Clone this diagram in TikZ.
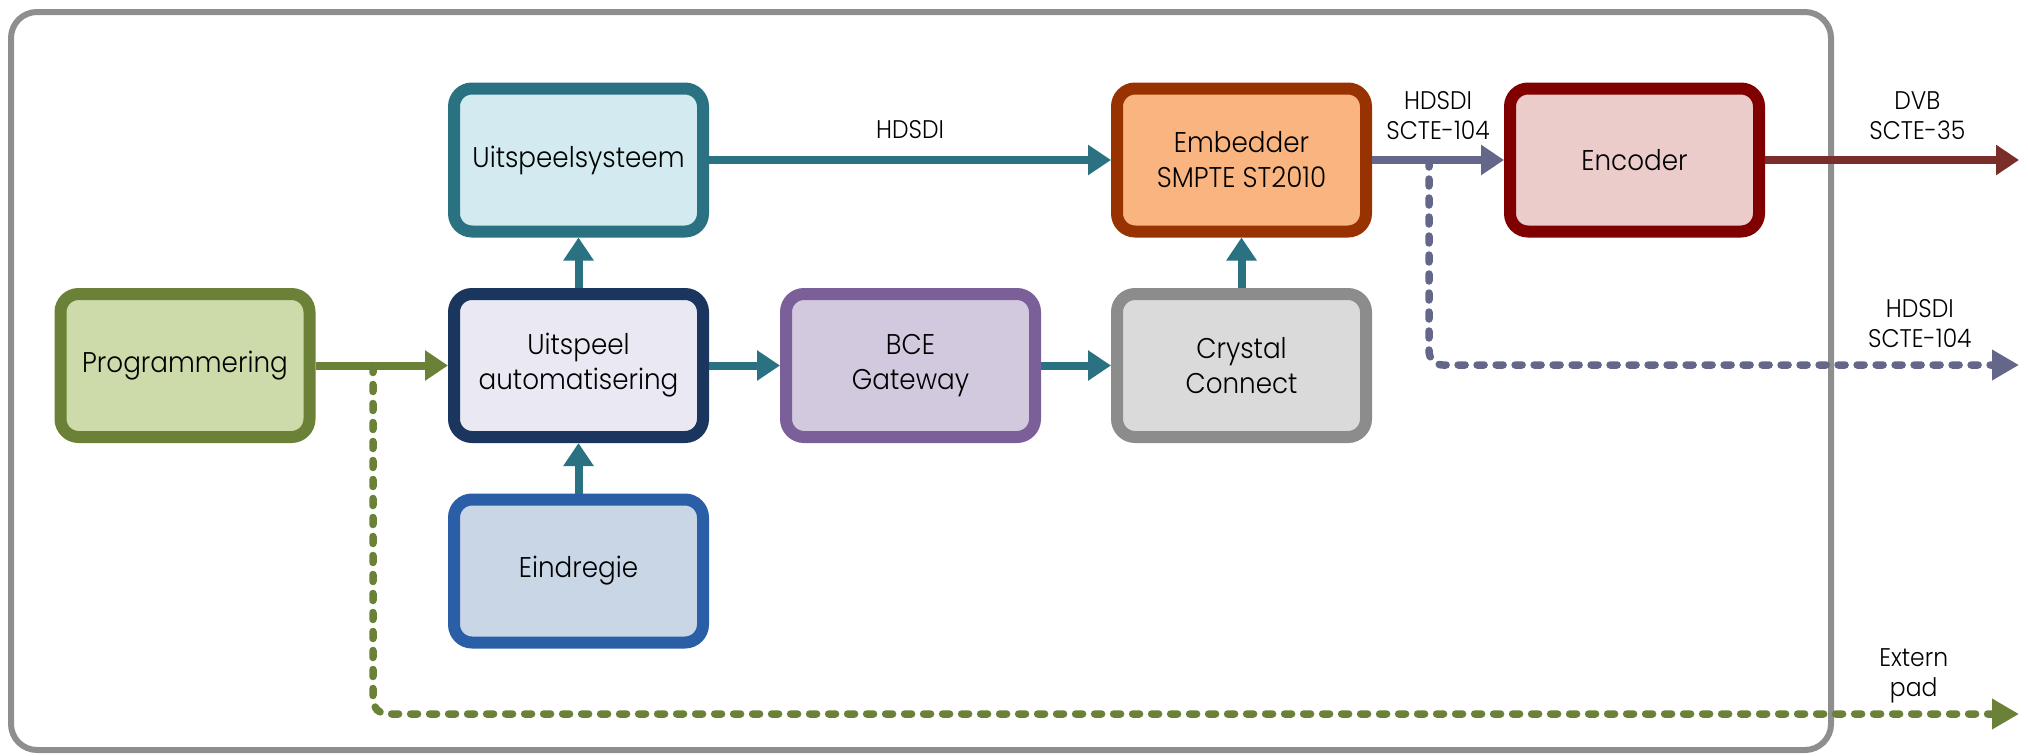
\documentclass[tikz,border=0pt]{standalone}
\usepackage{fontspec}
\IfFontExistsTF{Poppins Light}{\setmainfont{Poppins Light}[FakeStretch=0.92]}{\setmainfont{Poppins}[FakeStretch=0.92]}
\usetikzlibrary{arrows.meta}
\definecolor{progD}{HTML}{6B8137}
\definecolor{progF}{HTML}{CCDBA9}
\definecolor{sysD}{HTML}{2A7181}
\definecolor{sysF}{HTML}{D3EBF0}
\definecolor{autD}{HTML}{1A365E}
\definecolor{autF}{HTML}{EAE9F3}
\definecolor{eindD}{HTML}{2A5EA6}
\definecolor{eindF}{HTML}{C9D6E6}
\definecolor{bceD}{HTML}{7A5F98}
\definecolor{bceF}{HTML}{D3C9DF}
\definecolor{cryD}{HTML}{8C8C8C}
\definecolor{cryF}{HTML}{DADADA}
\definecolor{embD}{HTML}{983200}
\definecolor{embF}{HTML}{F9B480}
\definecolor{encD}{HTML}{800000}
\definecolor{encF}{HTML}{ECCBCB}
\definecolor{tealA}{HTML}{2A7181}
\definecolor{purA}{HTML}{646789}
\definecolor{brownA}{HTML}{7A2E2A}
\definecolor{greenA}{HTML}{6B8137}
\definecolor{frameC}{HTML}{8E8E8E}
\begin{document}
\begin{tikzpicture}[x=1pt,y=-1pt,
  box/.style={draw, rectangle, rounded corners=18pt, line width=12pt,
    minimum width=249pt, minimum height=143pt, inner sep=0pt, align=center,
    font=\fontsize{28.5}{35}\selectfont},
  lbl/.style={inner sep=0pt, align=center, font=\fontsize{25.5}{30}\selectfont},
  tip/.style={-{Triangle[length=23pt,width=29pt]}},
  arr/.style={tip, line width=8pt},
  dsh/.style={-{Triangle[length=27pt,width=29pt]}, line width=7.5pt, line cap=round, dash pattern=on 7pt off 12pt, rounded corners=14pt},
  frame/.style={draw=frameC, line width=6pt, rounded corners=26pt}
]
\useasboundingbox (0,0) rectangle (2028,755);
\draw[frame] (11,12) rectangle (1831,750);

\node[box, draw=progD, fill=progF] (prog) at (185,365.5) {Programmering};
\node[box, draw=sysD, fill=sysF] (sys) at (578.5,160) {Uitspeelsysteem};
\node[box, draw=autD, fill=autF] (aut) at (578.5,365.5) {Uitspeel\\automatisering};
\node[box, draw=eindD, fill=eindF] (eind) at (578.5,571) {Eindregie};
\node[box, draw=bceD, fill=bceF] (bce) at (910.5,365.5) {BCE\\Gateway};
\node[box, draw=cryD, fill=cryF] (cry) at (1241.5,365.5) {Crystal\\Connect};
\node[box, draw=embD, fill=embF] (emb) at (1241.5,160) {Embedder\\SMPTE ST2010};
\node[box, draw=encD, fill=encF] (enc) at (1634.5,160) {Encoder};

\coordinate (gb) at (373,365.5);
\coordinate (gout) at (2019,714);
\coordinate (pb) at (1429,160);
\coordinate (pout) at (2019,365);
\coordinate (bout) at (2019,160);

\draw[dsh, draw=greenA] (gb) |- node[lbl, pos=0.968, above=7pt] {Extern\\pad} (gout);
\draw[dsh, draw=purA] (pb) |- node[lbl, pos=0.916, above=14pt] {HDSDI\\SCTE-104} (pout);

\draw[arr, draw=greenA] (prog) -- (aut);
\draw[arr, draw=tealA] (aut) -- (sys);
\draw[arr, draw=tealA] (eind) -- (aut);
\draw[arr, draw=tealA] (aut) -- (bce);
\draw[arr, draw=tealA] (bce) -- (cry);
\draw[arr, draw=tealA] (cry) -- (emb);
\draw[arr, draw=tealA] (sys) -- node[lbl, midway, above=17pt] {HDSDI} (emb);
\draw[arr, draw=purA] (emb) -- node[lbl, midway, above=16pt] {HDSDI\\SCTE-104} (enc);
\draw[arr, draw=brownA] (enc) -- node[lbl, pos=0.6, above=16pt] {DVB\\SCTE-35} (bout);
\end{tikzpicture}
\end{document}
